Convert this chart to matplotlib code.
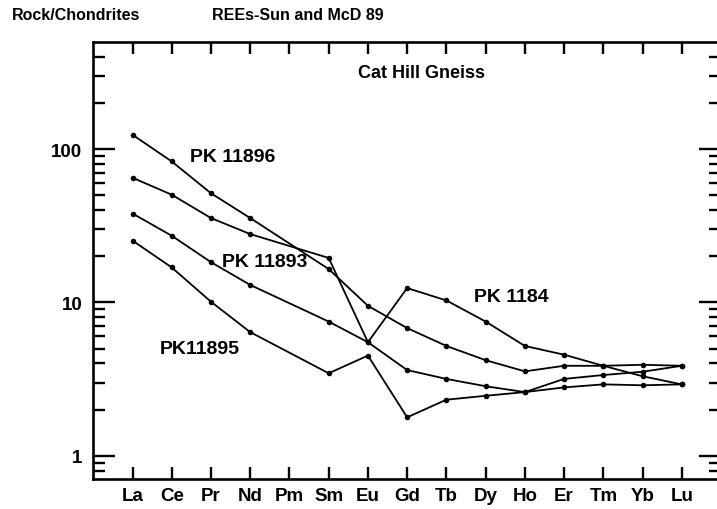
import numpy as np
import matplotlib.pyplot as plt
from matplotlib.ticker import LogLocator, NullFormatter, FixedLocator

plt.rcParams['font.family'] = ['Liberation Sans', 'DejaVu Sans']
plt.rcParams['font.weight'] = 'bold'

# chondrite-normalised REE, Pm not analysed
elements = ['La', 'Ce', 'Pr', 'Nd', 'Pm', 'Sm', 'Eu', 'Gd', 'Tb', 'Dy', 'Ho', 'Er', 'Tm', 'Yb', 'Lu']
pk11896 = [124, 83, 51.5, 35.5, np.nan, 16.5, 9.5, 6.8, 5.2, 4.2, 3.55, 3.86, 3.86, 3.92, 3.86]
pk1184 = [65, 50.4, 35.5, 27.9, np.nan, 19.5, 5.5, 12.4, 10.3, 7.5, 5.2, 4.56, 3.86, 3.3, 2.92]
pk11893 = [38, 27.2, 18.3, 13.0, np.nan, 7.5, 5.5, 3.62, 3.17, 2.84, 2.6, 3.17, 3.36, 3.53, 3.86]
pk11895 = [25.3, 16.9, 10.1, 6.4, np.nan, 3.45, 4.5, 1.78, 2.32, 2.46, 2.6, 2.79, 2.92, 2.88, 2.92]

fig = plt.figure(figsize=(7.17, 5.10), dpi=100)
ax = fig.add_axes([0.1301, 0.0588, 0.8755, 0.8563])

x = np.arange(len(elements))
for s in [pk11896, pk1184, pk11893, pk11895]:
    y = np.array(s, dtype=float)
    ok = ~np.isnan(y)
    ax.plot(x[ok], y[ok], color='black', lw=1.3, marker='o', ms=4,
            markerfacecolor='black', markeredgewidth=0)

ax.set_yscale('log')
ax.set_xlim(-1, 15)
ax.set_ylim(0.705, 497)

ax.xaxis.set_major_locator(FixedLocator(x))
ax.set_xticklabels(elements)
ax.yaxis.set_major_locator(LogLocator(base=10))
ax.yaxis.set_minor_locator(LogLocator(base=10, subs=np.arange(2, 10)))
ax.yaxis.set_minor_formatter(NullFormatter())
ax.set_yticks([1, 10, 100])
ax.set_yticklabels(['1', '10', '100'])

ax.tick_params(which='both', direction='in', top=True, right=True, width=1.7)
ax.tick_params(axis='x', which='major', length=8.5, labelsize=13.5, pad=6)
ax.tick_params(axis='y', which='major', length=16, labelsize=13.5, pad=8)
ax.tick_params(axis='y', which='minor', length=8.5)
ax.tick_params(axis='x', which='minor', length=0)
for sp in ax.spines.values():
    sp.set_linewidth(1.9)

ax.text(5.75, 318, 'Cat Hill Gneiss', fontsize=13, ha='left', va='center')
ax.text(1.46, 88.8, 'PK 11896', fontsize=14, ha='left', va='center')
ax.text(2.28, 18.4, 'PK 11893', fontsize=14, ha='left', va='center')
ax.text(8.70, 11.0, 'PK 1184', fontsize=14, ha='left', va='center')
ax.text(0.70, 4.97, 'PK11895', fontsize=14, ha='left', va='center')

fig.text(12 / 717, 1 - 16 / 510, 'Rock/Chondrites', fontsize=11.5, ha='left', va='center')
fig.text(212 / 717, 1 - 16 / 510, 'REEs-Sun and McD 89', fontsize=11.5, ha='left', va='center')

fig.savefig('out.png', dpi=100)
